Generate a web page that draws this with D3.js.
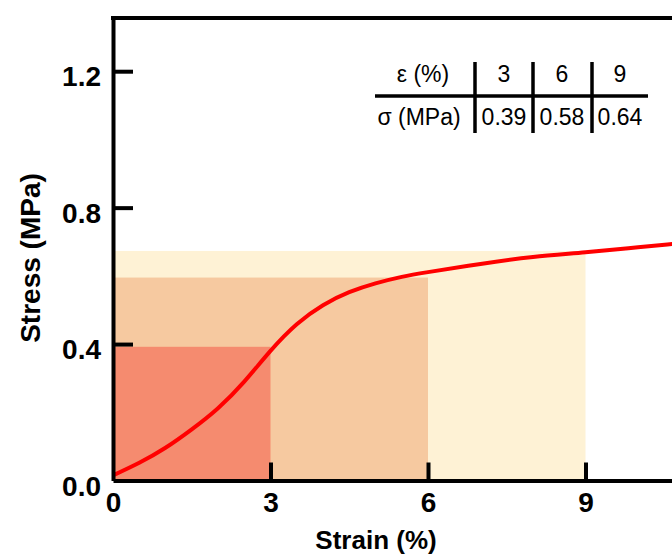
<!DOCTYPE html>
<html>
<head>
<meta charset="utf-8">
<script src="https://cdn.jsdelivr.net/npm/d3@7"></script>
<style>
  body { margin: 0; background: #fff; }
  svg { display: block; font-family: "Liberation Sans", Arial, sans-serif; }
</style>
</head>
<body>
<svg id="chart" width="672" height="554"></svg>
<script>
// stress-strain curve
const strain = [0, 0.5, 1.0, 1.5, 2.0, 2.5, 3.0, 3.5, 4.0, 4.5, 5.0, 5.5, 6.0, 7.0, 8.0, 9.0, 10.0, 11.0, 12.0];
const stress = [0.015, 0.052, 0.096, 0.150, 0.212, 0.29, 0.38, 0.458, 0.514, 0.552, 0.578, 0.597, 0.611, 0.635, 0.655, 0.669, 0.684, 0.698, 0.71];

// shaded bands (strain limit, band top)
const bandStrain = [9, 6, 3];
const bandTop = [0.673, 0.595, 0.392];
const bandColors = ["#fef2d5", "#f6c9a0", "#f58b6f"];

// table in the corner
const tableStrain = ["3", "6", "9"];
const tableStress = ["0.39", "0.58", "0.64"];

const xTicks = [0, 3, 6, 9];
const yTicks = [0, 0.4, 0.8, 1.2];

const svg = d3.select("#chart");

const x0 = 113, yBase = 480.5;
const x = d3.scaleLinear().domain([0, 12]).range([x0, x0 + 52.5 * 12]);
const y = d3.scaleLinear().domain([0, 1.356]).range([yBase, 18]);

// bands
svg.append("g")
  .selectAll("rect")
  .data(bandStrain)
  .join("rect")
  .attr("x", x(0))
  .attr("y", (d, i) => y(bandTop[i]))
  .attr("width", (d) => x(d) - x(0))
  .attr("height", (d, i) => y(0) - y(bandTop[i]))
  .attr("fill", (d, i) => bandColors[i]);

// curve
const line = d3.line()
  .x((d, i) => x(strain[i]))
  .y((d) => y(d))
  .curve(d3.curveNatural);

svg.append("path")
  .attr("d", line(stress))
  .attr("fill", "none")
  .attr("stroke", "#ff0000")
  .attr("stroke-width", 4);

// axes
const xAxis = svg.append("g")
  .attr("transform", `translate(0,${yBase})`)
  .call(d3.axisBottom(x).tickValues(xTicks).tickSize(-18).tickSizeOuter(0).tickPadding(10));

const yAxis = svg.append("g")
  .attr("transform", `translate(${x0},0)`)
  .call(d3.axisLeft(y).tickValues(yTicks).tickSize(-20).tickSizeOuter(0).tickPadding(12)
    .tickFormat(d3.format(".1f")));

[xAxis, yAxis].forEach((g) => {
  g.select(".domain").attr("stroke", "#000").attr("stroke-width", 4);
  g.selectAll(".tick line").attr("stroke", "#000").attr("stroke-width", 4);
  g.selectAll(".tick text")
    .attr("fill", "#000")
    .attr("font-size", "28px")
    .attr("font-weight", "bold")
    .attr("font-family", "'Liberation Sans', Arial, sans-serif");
});
yAxis.selectAll(".tick").filter((d) => d === 0).select("line").remove();
xAxis.selectAll(".tick").filter((d) => d === 0).select("line").remove();
xAxis.selectAll(".tick text").attr("dy", "0.78em");
yAxis.selectAll(".tick text").attr("dy", "0.52em");

// top border
svg.append("line")
  .attr("x1", x0 - 2).attr("x2", x(12))
  .attr("y1", y(1.356)).attr("y2", y(1.356))
  .attr("stroke", "#000").attr("stroke-width", 4);

// axis titles
svg.append("text")
  .attr("x", 376)
  .attr("y", 549)
  .attr("text-anchor", "middle")
  .attr("font-size", "26px")
  .attr("font-weight", "bold")
  .text("Strain (%)");

svg.append("text")
  .attr("transform", "translate(40,258) rotate(-90)")
  .attr("text-anchor", "middle")
  .attr("font-size", "28px")
  .attr("font-weight", "bold")
  .text("Stress (MPa)");

// table
const tbl = svg.append("g").attr("font-size", "23px").attr("fill", "#000");
const colX = [504, 562, 620];
tbl.append("text").attr("x", 423).attr("y", 82).attr("text-anchor", "middle").text("ε (%)");
tbl.append("text").attr("x", 419).attr("y", 125).attr("text-anchor", "middle").text("σ (MPa)");
tbl.selectAll(".hdr").data(tableStrain).join("text")
  .attr("class", "hdr")
  .attr("x", (d, i) => colX[i]).attr("y", 82)
  .attr("text-anchor", "middle").text((d) => d);
tbl.selectAll(".val").data(tableStress).join("text")
  .attr("class", "val")
  .attr("x", (d, i) => colX[i]).attr("y", 125)
  .attr("text-anchor", "middle").text((d) => d);
tbl.append("line")
  .attr("x1", 375).attr("x2", 648).attr("y1", 96).attr("y2", 96)
  .attr("stroke", "#000").attr("stroke-width", 3.5);
tbl.selectAll(".sep").data([475, 533, 592]).join("line")
  .attr("class", "sep")
  .attr("x1", (d) => d).attr("x2", (d) => d)
  .attr("y1", 62).attr("y2", 133)
  .attr("stroke", "#000").attr("stroke-width", 3.5);
</script>
</body>
</html>
